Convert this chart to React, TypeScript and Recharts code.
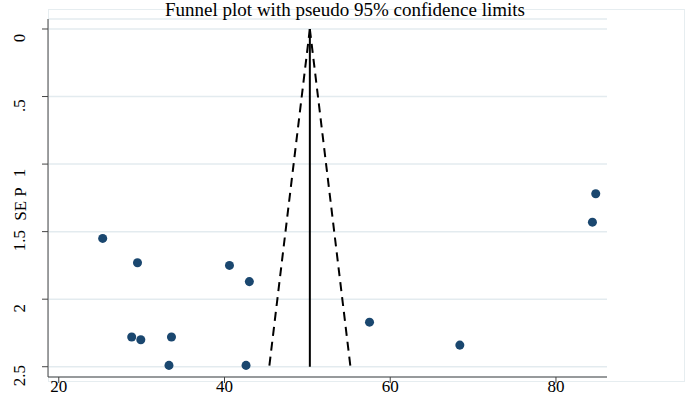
import React from "react";
import {
  ScatterChart,
  Scatter,
  XAxis,
  YAxis,
  CartesianGrid,
} from "recharts";

// study effect vs. its standard error
const effect = [
  25.3, 29.5, 40.6, 43.0, 28.8, 29.9, 33.6, 33.3, 42.6, 57.5, 68.4, 84.8, 84.4,
];
const se = [
  1.55, 1.73, 1.75, 1.87, 2.28, 2.3, 2.28, 2.49, 2.49, 2.17, 2.34, 1.22, 1.43,
];

// pooled estimate and pseudo 95% limits (at se 0 and 2.5)
const funnelSE = [0, 2.5];
const estimateX = [50.3, 50.3];
const lowerX = [50.3, 45.4];
const upperX = [50.3, 55.2];

const xTicks = [20, 40, 60, 80];
const yTicks = [0, 0.5, 1, 1.5, 2, 2.5];
const yTickLabels = ["0", ".5", "1", "1.5", "2", "2.5"];

const studies = effect.map((x, i) => ({ x, y: se[i] }));
const toLine = (xs: number[]) => xs.map((x, i) => ({ x, y: funnelSE[i] }));

const FONT = "'Liberation Serif', 'Times New Roman', serif";
const NAVY = "#1a476f";

const YTick = (props: any) => {
  const { y, payload } = props;
  const i = yTicks.indexOf(payload.value);
  const cy = y + 9;
  return (
    <text
      x={20}
      y={cy}
      transform={`rotate(-90, 20, ${cy})`}
      textAnchor="middle"
      dominantBaseline="central"
      fontFamily={FONT}
      fontSize={17}
      fill="#000"
    >
      {yTickLabels[i]}
    </text>
  );
};

const XTick = (props: any) => {
  const { x, y, payload } = props;
  return (
    <text
      x={x}
      y={y + 9}
      textAnchor="middle"
      fontFamily={FONT}
      fontSize={17}
      fill="#000"
    >
      {payload.value}
    </text>
  );
};

const noDot = () => <g />;

export default function App() {
  return (
    <div
      style={{
        position: "absolute",
        left: 0,
        top: 0,
        width: 685,
        height: 402,
        background: "#fff",
        overflow: "hidden",
      }}
    >
      <div
        style={{
          position: "absolute",
          left: 48,
          top: 9,
          width: 635,
          height: 371,
          border: "1px solid #e6edf0",
        }}
      />
      <div
        style={{
          position: "absolute",
          left: 0,
          top: 0,
          width: 690,
          textAlign: "center",
          fontFamily: FONT,
          fontSize: 19,
          lineHeight: "19px",
          color: "#000",
          zIndex: 2,
        }}
      >
        Funnel plot with pseudo 95% confidence limits
      </div>
      <div style={{ position: "absolute", left: 0, top: 0 }}>
        <ScatterChart
          width={685}
          height={402}
          margin={{ top: 19, right: 78, bottom: 5, left: 0 }}
        >
          <CartesianGrid vertical={false} stroke="#e3ebef" strokeWidth={1.5} />
          <XAxis
            type="number"
            dataKey="x"
            domain={[18.7, 86.16]}
            allowDataOverflow
            ticks={xTicks}
            height={20}
            tickSize={6}
            tickMargin={0}
            stroke="#444"
            tick={<XTick />}
          />
          <YAxis
            type="number"
            dataKey="y"
            reversed
            domain={[-0.074, 2.576]}
            allowDataOverflow
            ticks={yTicks}
            width={48}
            tickSize={6}
            stroke="#444"
            tick={<YTick />}
            label={{
              content: () => (
                <text
                  x={20}
                  y={204}
                  transform="rotate(-90, 20, 204)"
                  textAnchor="middle"
                  dominantBaseline="central"
                  fontFamily={FONT}
                  fontSize={17}
                  fill="#000"
                >
                  SE P
                </text>
              ),
            }}
          />
          <Scatter
            data={toLine(lowerX)}
            line={{ stroke: "#000", strokeWidth: 2, strokeDasharray: "9 6" }}
            shape={noDot}
            isAnimationActive={false}
          />
          <Scatter
            data={toLine(upperX)}
            line={{ stroke: "#000", strokeWidth: 2, strokeDasharray: "9 6" }}
            shape={noDot}
            isAnimationActive={false}
          />
          <Scatter
            data={toLine(estimateX)}
            line={{ stroke: "#000", strokeWidth: 2 }}
            shape={noDot}
            isAnimationActive={false}
          />
          <Scatter
            data={studies}
            fill={NAVY}
            isAnimationActive={false}
          />
        </ScatterChart>
      </div>
    </div>
  );
}
